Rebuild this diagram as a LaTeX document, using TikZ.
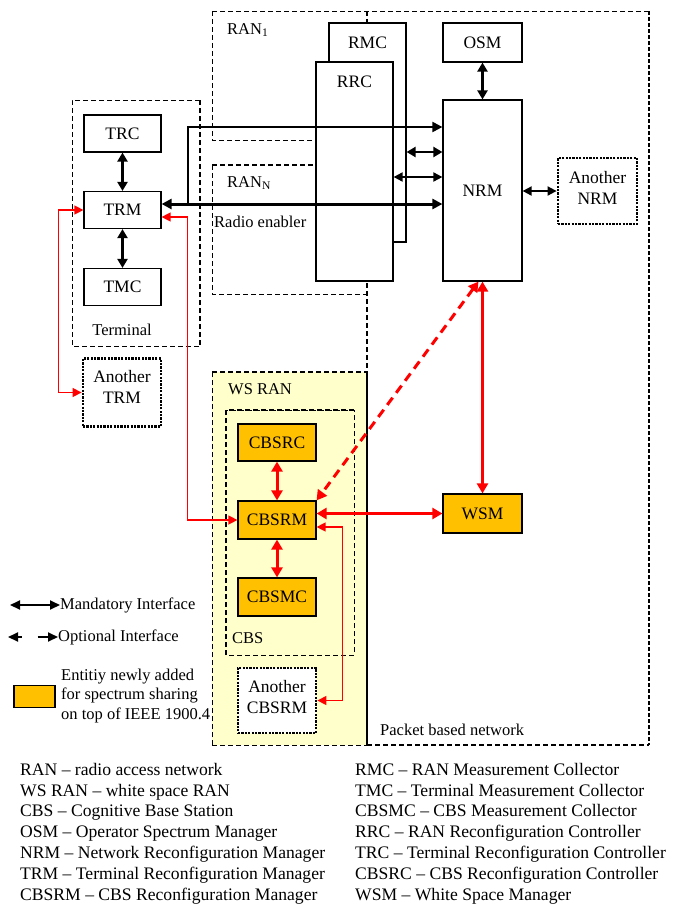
\documentclass[tikz,border=0pt]{standalone}
\usepackage{fontspec}
\setmainfont{Liberation Serif}
\usetikzlibrary{arrows.meta}
\definecolor{wsyellow}{HTML}{FFFFCC}
\definecolor{entorange}{HTML}{FFC000}
\definecolor{ifred}{HTML}{FF0000}
\begin{document}
\begin{tikzpicture}[x=1pt,y=-1pt,
  every node/.style={font=\fontsize{16.5}{19}\selectfont, inner sep=0pt},
  box/.style={draw, line width=1.2pt, fill=white, minimum width=77pt, minimum height=37pt, font=\fontsize{17.5}{20}\selectfont},
  obox/.style={box, fill=entorange},
  dotbox/.style={box, line width=2.8pt, dash pattern=on 2.2pt off 1.2pt},
  dottext/.style={align=center, font=\fontsize{17.5}{21}\selectfont},
  thindash/.style={line width=0.8pt, dash pattern=on 5pt off 3pt},
  thickdash/.style={line width=2pt, dash pattern=on 5pt off 3pt},
  mand/.style={line width=2.6pt, {Triangle[length=9pt,width=10pt]}-{Triangle[length=9pt,width=10pt]}},
  mandthin/.style={line width=1.8pt, {Triangle[length=9pt,width=9pt]}-{Triangle[length=9pt,width=9pt]}},
  redthick/.style={ifred, line width=3pt, {Triangle[length=10pt,width=11pt]}-{Triangle[length=10pt,width=11pt]}},
  redthin/.style={ifred, line width=1.3pt, {Triangle[length=9pt,width=9pt]}-{Triangle[length=9pt,width=9pt]}},
  reddash/.style={ifred, line width=3pt, dash pattern=on 9pt off 6pt, {Triangle[length=10pt,width=11pt]}-{Triangle[length=10pt,width=11pt]}},
  legtext/.style={anchor=base west, align=left, font=\fontsize{17.6}{20.8}\selectfont},
]
\useasboundingbox (0,0) rectangle (673,907);

% ---------- containers ----------
\fill[wsyellow] (212,372) rectangle (367,745);
\draw[thindash] (212,745) -- (212,372);
\draw[thickdash] (212,372) -- (367,372);
\draw[thindash] (212,745) -- (367,745);
\draw[line width=2.2pt] (367,372) -- (367,746);
% packet based network
\draw[thindash] (212,11) -- (649,11);
\draw[line width=2.2pt, dash pattern=on 4pt off 2pt] (649,11) -- (649,745);
\draw[line width=1.6pt, dash pattern=on 5pt off 3pt] (367,745) -- (649,745);
\draw[thickdash] (367,11) -- (367,372);
% RAN 1
\draw[thindash] (212,11) -- (212,140) -- (330,140);
% RAN N
\draw[thickdash] (212,165) -- (330,165);
\draw[thindash] (212,165) -- (212,294) -- (367,294);
% terminal
\draw[thindash] (200,100) -- (72,100) -- (72,346) -- (200,346);
\draw[thickdash] (200,100) -- (200,346);
% CBS
\draw[thindash] (226,410) rectangle (354,655);
\draw[thickdash] (226,655) -- (226,410) -- (354,410);

% ---------- RAN entities ----------
\node[box, minimum width=77pt, minimum height=219pt] (rmc) at (367.5,132.5) {};
\node (rmclbl) at (367.5,43) {\fontsize{17.5}{20}\selectfont RMC};
\node[box, minimum width=77pt, minimum height=219pt] (rrc) at (354.5,171.5) {};
\node (rrclbl) at (354.5,82) {\fontsize{17.5}{20}\selectfont RRC};

% ---------- network entities ----------
\node[box, minimum width=79pt, minimum height=39pt] (osm) at (482.5,42.5) {OSM};
\node[box, minimum width=79pt, minimum height=181pt] (nrm) at (482.5,190.5) {NRM};
\node[dotbox, minimum width=79pt, minimum height=66pt] (anrm) at (597.5,191) {};
\node[dottext] (anrmlbl) at (597.5,187.5) {Another\\NRM};
\node[obox, minimum width=79pt, minimum height=39pt] (wsm) at (482.5,513.5) {WSM};

% ---------- terminal ----------
\node[box] (trc) at (122.5,133.5) {TRC};
\node[box] (trm) at (122.5,210) {TRM};
\node[box] (tmc) at (122.5,287) {TMC};
\node[dotbox, minimum width=78pt, minimum height=68pt] (atrm) at (122,392.5) {};
\node[dottext] (atrmlbl) at (122,387) {Another\\TRM};
\node (termlbl) at (122,330) {Terminal};

% ---------- WS RAN ----------
\node[obox, minimum width=78pt] (cbsrc) at (277,442.5) {CBSRC};
\node[obox, minimum width=78pt, minimum height=38pt] (cbsrm) at (277,520) {CBSRM};
\node[obox, minimum width=78pt, minimum height=38pt] (cbsmc) at (277,597) {CBSMC};
\node[dotbox, minimum width=78pt, minimum height=65pt] (acbsrm) at (277,700.5) {};
\node[dottext] (acbsrmlbl) at (277,697) {Another\\CBSRM};

% ---------- labels ----------
\node[anchor=west] (ran1) at (227,30) {RAN\textsubscript{1}};
\node[anchor=west] (rann) at (227,183) {RAN\textsubscript{N}};
\node[anchor=west] (radio) at (214,222) {Radio enabler};
\node[anchor=west] (wsran) at (228,389) {WS RAN};
\node[anchor=west] (cbslbl) at (232,638) {CBS};
\node[anchor=west] (pbn) at (380,730) {Packet based network};

% ---------- black interfaces ----------
\draw[mand] (trc) -- (trm);
\draw[mand] (trm) -- (tmc);
\draw[mand] (osm) -- (nrm);
\coordinate (tbranch) at (188,204);
\draw[line width=3pt, {Triangle[length=10pt,width=10pt]}-{Triangle[length=10pt,width=10pt]}] ([yshift=6pt]trm.east) -- ([yshift=6pt]trm.east -| nrm.west);
\draw[line width=2pt, -{Triangle[length=10pt,width=10pt]}] (tbranch) -- (188,127) -- (nrm.west |- 0,127);
\draw[mand] (rmc.east |- 0,152) -- (nrm.west |- 0,152);
\draw[mandthin] (rrc.east |- 0,177) -- (nrm.west |- 0,177);
\draw[mandthin] (nrm.east |- anrm.west) -- (anrm.west);

% ---------- red interfaces ----------
\draw[redthick] (cbsrc) -- (cbsrm);
\draw[redthick] (cbsrm) -- (cbsmc);
\draw[redthick] (cbsrm.east |- wsm.west) -- (wsm.west);
\draw[redthick] (nrm.south) -- (wsm.north);
\draw[reddash] ([xshift=-4pt]nrm.south) -- (cbsrm.north east);
\draw[redthin] ([yshift=-7pt]trm.east) -- ++(26,0) |- (cbsrm.west);
\draw[redthin] (trm.west) -- ++(-25,0) |- (atrm.west);
\draw[redthin] ([yshift=-7pt]cbsrm.east) -- ++(26,0) |- (acbsrm.east);

% ---------- legend ----------
\coordinate (m1) at (10,605);
\coordinate (m2) at (60,605);
\draw[line width=2pt, {Triangle[length=10pt,width=9pt]}-{Triangle[length=10pt,width=9pt]}] (m1) -- (m2);
\node[anchor=west] (mandlbl) at (60,605) {Mandatory Interface};
\coordinate (o1) at (8,637);
\coordinate (o2) at (58,637);
\draw[line width=2pt, dash pattern=on 4pt off 16pt on 20pt off 0pt, {Triangle[length=10pt,width=9pt]}-{Triangle[length=10pt,width=9pt]}] (o1) -- (o2);
\node[anchor=west] (optlbl) at (58,637) {Optional Interface};
\node[draw, line width=1.2pt, fill=entorange, minimum width=41pt, minimum height=22pt] (entbox) at (34.5,696.5) {};
\node[anchor=north west, align=left, font=\fontsize{16.5}{19.3}\selectfont] (entlbl) at (61,669) {Entitiy newly added\\for spectrum sharing\\on top of IEEE 1900.4};

\node[legtext] (legl) at (20,900) {RAN -- radio access network\\WS RAN -- white space RAN\\CBS -- Cognitive Base Station\\OSM -- Operator Spectrum Manager\\NRM -- Network Reconfiguration Manager\\TRM -- Terminal Reconfiguration Manager\\CBSRM -- CBS Reconfiguration Manager};
\node[legtext] (legr) at (355,900) {RMC -- RAN Measurement Collector\\TMC -- Terminal Measurement Collector\\CBSMC -- CBS Measurement Collector\\RRC -- RAN Reconfiguration Controller\\TRC -- Terminal Reconfiguration Controller\\CBSRC -- CBS Reconfiguration Controller\\WSM -- White Space Manager};
\end{tikzpicture}
\end{document}
